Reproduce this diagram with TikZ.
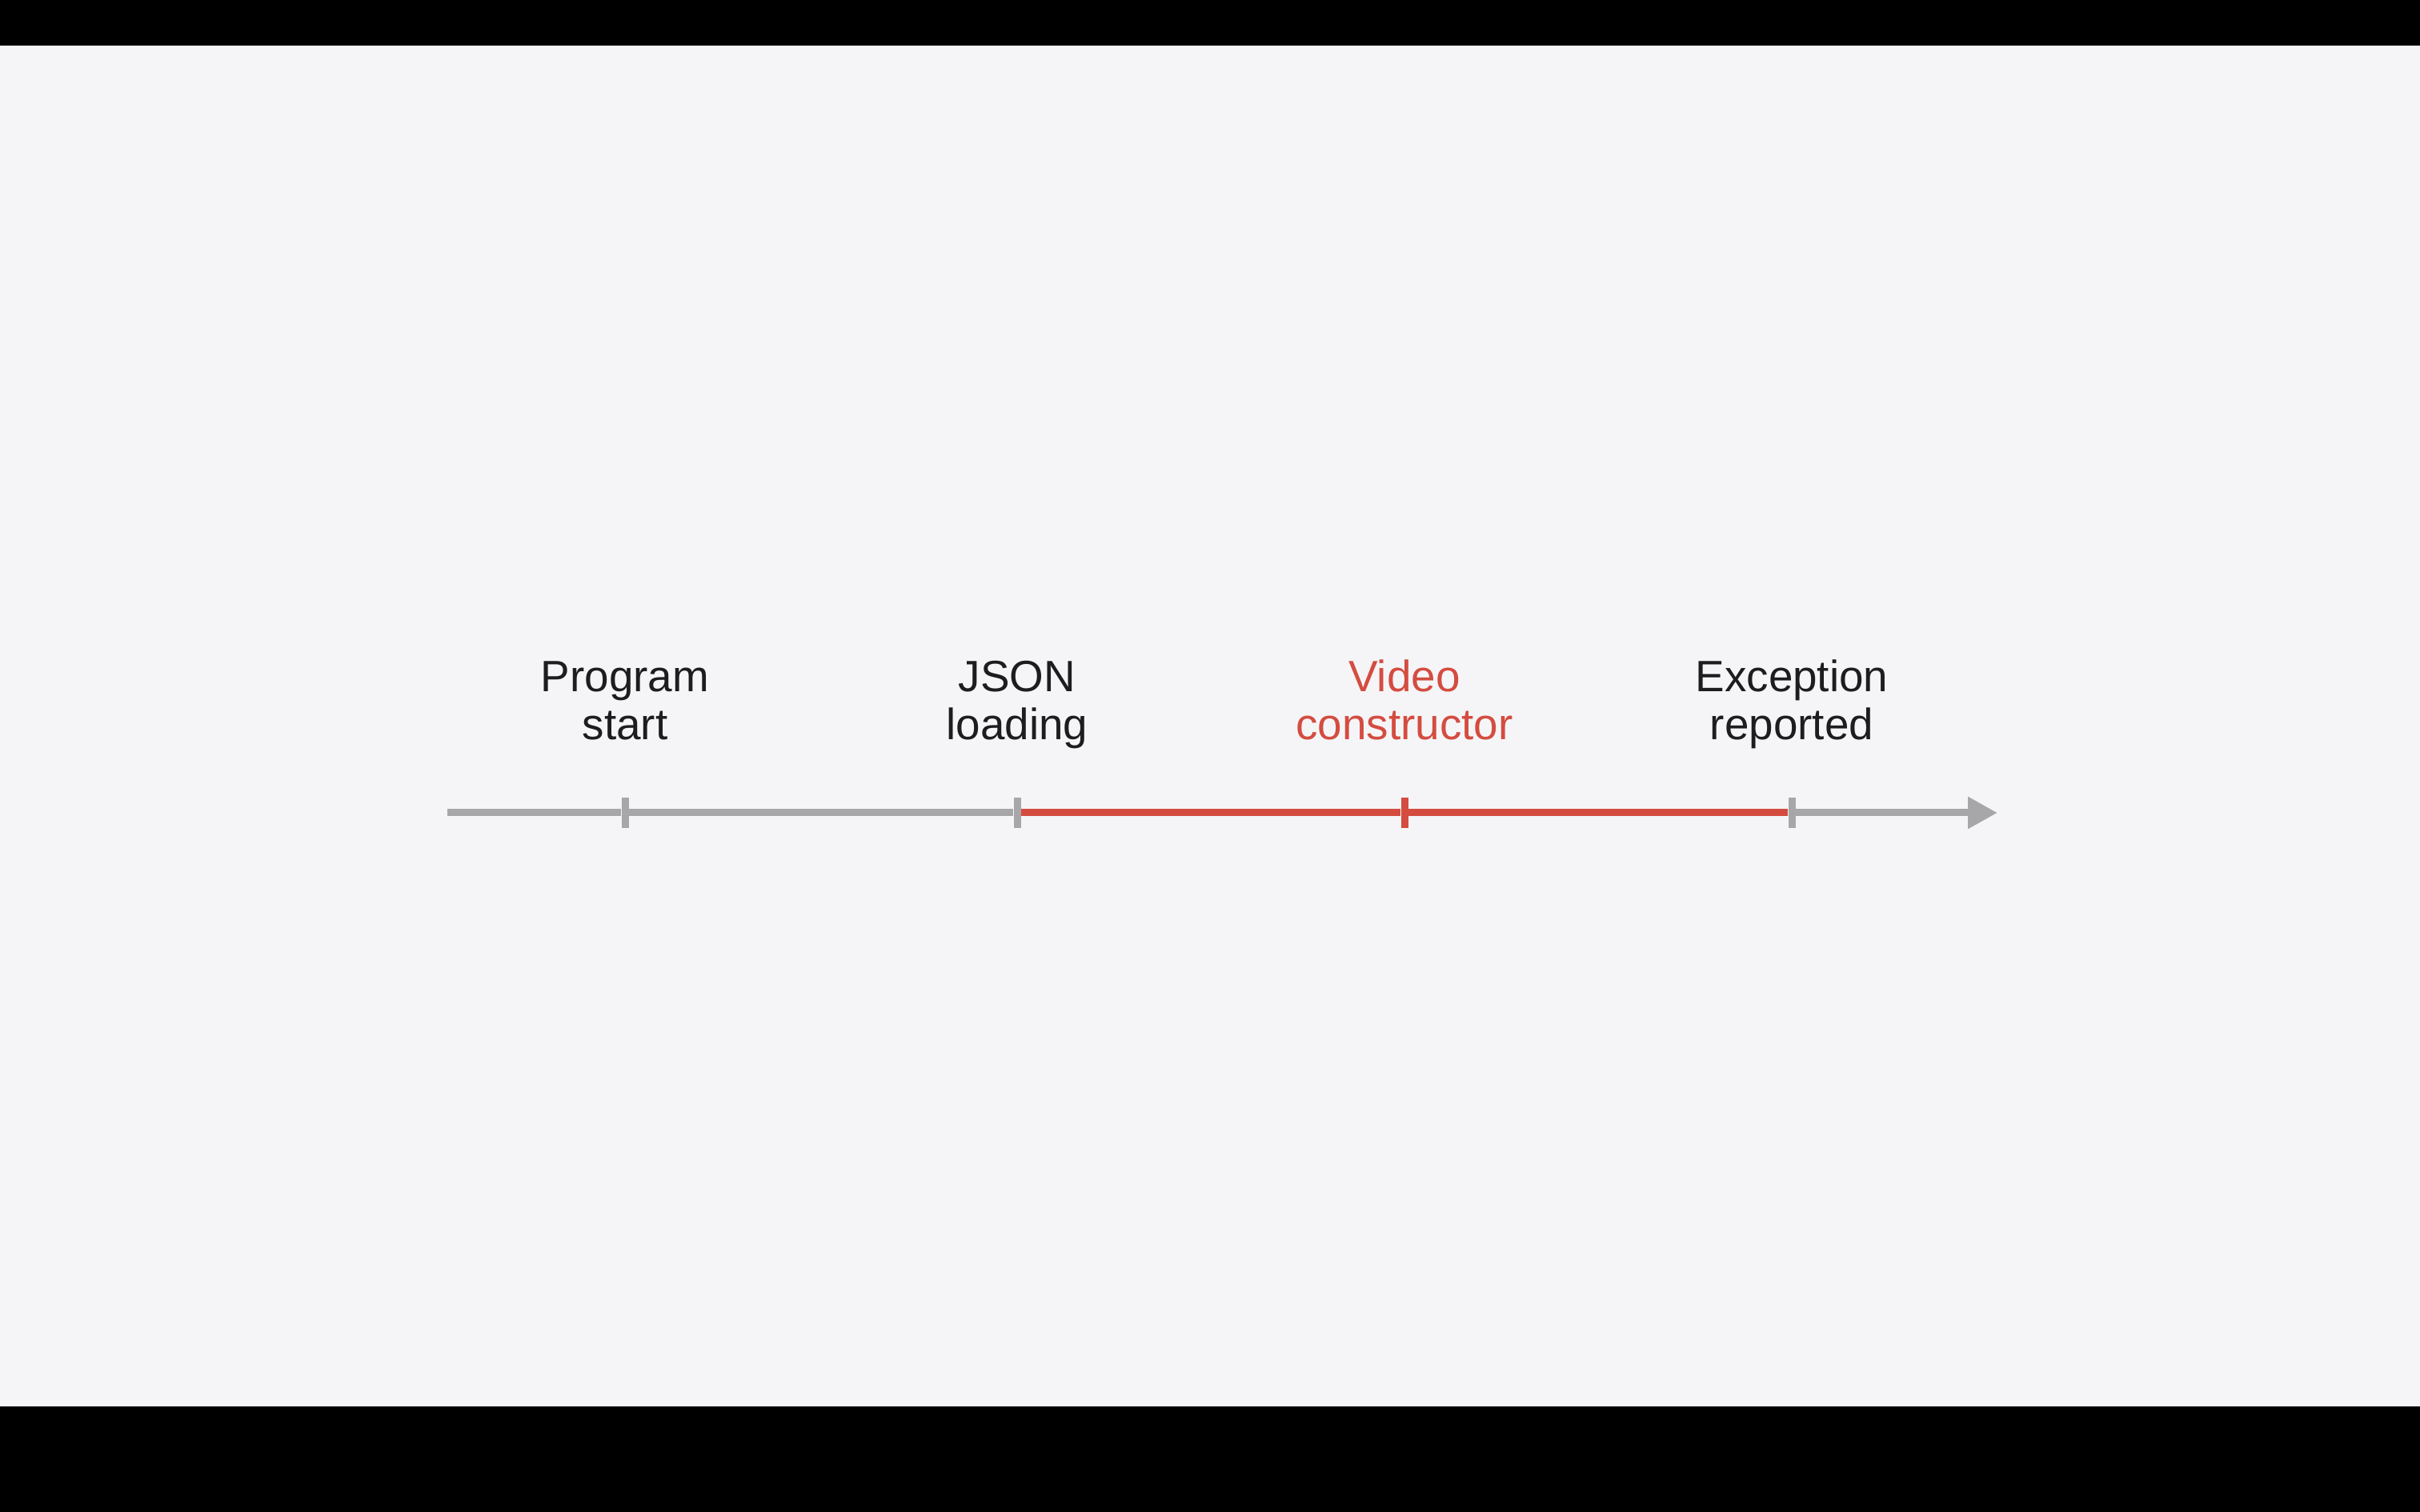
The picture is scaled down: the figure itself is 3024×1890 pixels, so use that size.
\documentclass[tikz,border=0pt]{standalone}
\usepackage{fontspec}
\setmainfont{Liberation Sans}
\usepackage{xcolor}
\usetikzlibrary{positioning}
\usetikzlibrary{arrows.meta}

\definecolor{bggray}{HTML}{F5F5F7}
\definecolor{axisgray}{HTML}{A7A7A9}
\definecolor{errred}{HTML}{D44C40}
\definecolor{textdark}{HTML}{1D1D1F}

\tikzset{
  axis/.style={line width=0.9mm, draw=axisgray, line cap=butt},
  axisred/.style={axis, draw=errred},
  tickmark/.style={rectangle, fill=axisgray, inner sep=0pt, minimum width=0.9mm, minimum height=3.8mm},
  tickred/.style={tickmark, fill=errred},
  lbl/.style={align=center, anchor=base, text=textdark, font=\fontsize{15.6pt}{17.3pt}\selectfont},
  lblred/.style={lbl, text=errred}
}

\begin{document}
\begin{tikzpicture}[x=0.1mm, y=-0.1mm]
  % Frame
  \fill[black] (0,0) rectangle (3024,1890);
  \fill[bggray] (0,57) rectangle (3024,1758);

  % Timeline points
  \coordinate (start) at (559,1016);
  \node[tickmark] (prog) at (781,1016) {};
  \node[tickmark] (json) at (1271,1016) {};
  \node[tickred] (video) at (1755,1016) {};
  \node[tickmark] (exc) at (2239,1016) {};
  \coordinate (end) at (2496,1016);

  % Axis
  \draw[axis] (start) -- (prog);
  \draw[axis] (prog) -- (json);
  \draw[axisred] (json) -- (video);
  \draw[axisred] (video) -- (exc);
  \draw[axis, -{Triangle[length=3.7mm, width=3.8mm]}] (exc) -- (end);

  % Labels
  \node[lbl] (progtext) at (781,925) {Program\\start};
  \node[lbl] (jsontext) at (1271,925) {JSON\\loading};
  \node[lblred] (videotext) at (1755,925) {Video\\constructor};
  \node[lbl] (exctext) at (2239,925) {Exception\\reported};
\end{tikzpicture}
\end{document}
